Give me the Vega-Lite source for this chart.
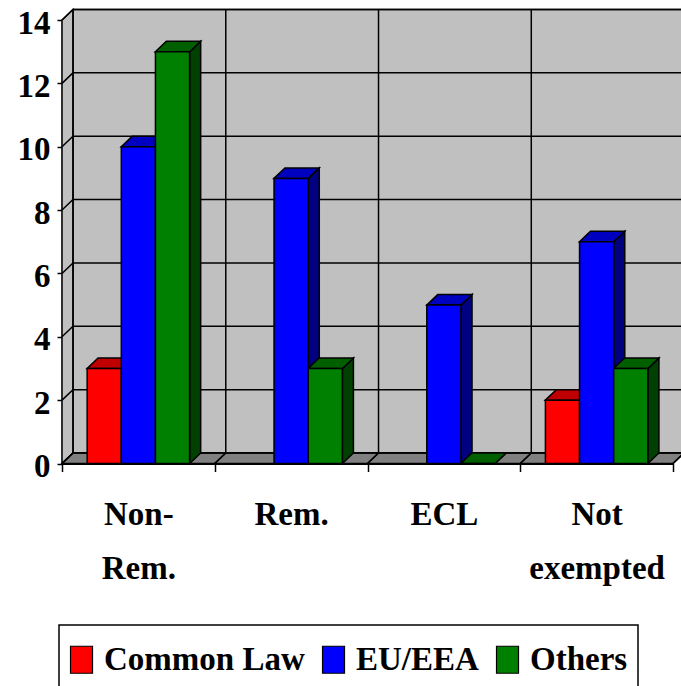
{
 "$schema":"https://vega.github.io/schema/vega-lite/v6.json",
 "width":611,"height":443.5,
 "autosize":{"type":"none"},
 "padding":{"left":62,"top":20,"right":8,"bottom":222.5},
 "background":"white",
 "config":{"view":{"stroke":null},"legend":{"strokeWidth":1.5}},
 "data":{"values":[
  {"category":"Non-Rem.","series":"Common Law","value":3},
  {"category":"Non-Rem.","series":"EU/EEA","value":10},
  {"category":"Non-Rem.","series":"Others","value":13},
  {"category":"Rem.","series":"EU/EEA","value":9},
  {"category":"Rem.","series":"Others","value":3},
  {"category":"ECL","series":"EU/EEA","value":5},
  {"category":"ECL","series":"Others","value":0},
  {"category":"Not exempted","series":"Common Law","value":2},
  {"category":"Not exempted","series":"EU/EEA","value":7},
  {"category":"Not exempted","series":"Others","value":3}
 ]},
 "encoding":{
  "x":{"field":"category","type":"nominal","sort":["Non-Rem.","Rem.","ECL","Not exempted"],
   "scale":{"domain":["Non-Rem.","Rem.","ECL","Not exempted"],"paddingInner":0,"paddingOuter":0},
   "axis":{"title":null,"labelAngle":0,"tickBand":"extent","tickSize":8,"tickColor":"black","tickWidth":1.5,"domainColor":"black","domainWidth":2,"zindex":1,
    "labelFont":"Liberation Serif","labelFontWeight":"bold","labelFontSize":33,"labelColor":"black","labelPadding":43,"labelLineHeight":54,"labelLimit":400,"labelOverlap":false,"labelFlush":false,"labelBaseline":"middle",
    "labelExpr":"datum.label=='Non-Rem.'?['Non-','Rem.']:datum.label=='Not exempted'?['Not','exempted']:datum.label"}},
  "y":{"field":"value","type":"quantitative",
   "scale":{"domain":[0,14],"nice":false,"zero":true},
   "axis":{"title":null,"values":[0,2,4,6,8,10,12,14],"grid":false,"tickSize":5,"tickColor":"black","tickWidth":1.5,"domainColor":"black","domainWidth":1.5,
    "labelFont":"Liberation Serif","labelFontWeight":"bold","labelFontSize":33,"labelColor":"black","labelPadding":7,"labelOffset":3,"labelOverlap":false,"labelFlush":false}}
 },
 "layer":[
  {"data":{"values":[{"base":0}]},
   "mark":{"type":"point","filled":true,"size":4,"opacity":1,"fill":"#c0c0c0","stroke":"black","strokeWidth":1.5,"shape":"M11,-10.5v-443.5h611v443.5zM0,0l11,-10.5v-443.5l-11,10.5z"},
   "encoding":{"x":{"value":0},"y":{"field":"base","type":"quantitative"}}},
  {"data":{"values":[{"base":0}]},
   "mark":{"type":"point","filled":true,"size":4,"opacity":1,"fill":"#808080","stroke":"black","strokeWidth":1.5,"shape":"M0,0l11,-10.5h611l-11,10.5z"},
   "encoding":{"x":{"value":0},"y":{"field":"base","type":"quantitative"}}},
  {"data":{"values":[{"tick":0},{"tick":2},{"tick":4},{"tick":6},{"tick":8},{"tick":10},{"tick":12},{"tick":14}]},
   "mark":{"type":"point","filled":false,"size":4,"opacity":1,"stroke":"black","strokeWidth":1.5,"shape":"M0,0l11,-10.5h611"},
   "encoding":{"x":{"value":0},"y":{"field":"tick","type":"quantitative"}}},
  {"data":{"values":[{"category":"Non-Rem.","base":0},{"category":"Rem.","base":0},{"category":"ECL","base":0},{"category":"Not exempted","base":0}]},
   "mark":{"type":"point","filled":false,"size":4,"opacity":1,"stroke":"black","strokeWidth":1.5,"shape":"M-76.35,0l11,-10.5v-443.5M76.35,0l11,-10.5"},
   "encoding":{"y":{"field":"base","type":"quantitative"}}},
  {"mark":{"type":"point","filled":true,"size":4,"opacity":1,"stroke":"black","strokeWidth":1.5,"shape":{"expr":"'M17.15,0l11,-10.5v'+(datum.value*31.68)+'l-11,10.5z'"}},
   "encoding":{"xOffset":{"field":"series","type":"nominal","scale":{"domain":["Common Law","EU/EEA","Others"],"paddingInner":0,"paddingOuter":0.737}},
    "fill":{"field":"series","type":"nominal","legend":null,"scale":{"domain":["Common Law","EU/EEA","Others"],"range":["#800000","#000080","#004000"]}}}},
  {"mark":{"type":"point","filled":true,"size":4,"opacity":1,"stroke":"black","strokeWidth":1.5,"shape":"M-17.15,0l11,-10.5h34.3l-11,10.5z"},
   "encoding":{"xOffset":{"field":"series","type":"nominal","scale":{"domain":["Common Law","EU/EEA","Others"],"paddingInner":0,"paddingOuter":0.737}},
    "fill":{"field":"series","type":"nominal","legend":null,"scale":{"domain":["Common Law","EU/EEA","Others"],"range":["#c00000","#0000c0","#006000"]}}}},
  {"mark":{"type":"bar","stroke":"black","strokeWidth":1.5},
   "encoding":{"xOffset":{"field":"series","type":"nominal","scale":{"domain":["Common Law","EU/EEA","Others"],"paddingInner":0,"paddingOuter":0.737}},
    "fill":{"field":"series","type":"nominal","scale":{"domain":["Common Law","EU/EEA","Others"],"range":["#ff0000","#0000ff","#008000"]},
     "legend":{"title":null,"orient":"none","legendX":-3,"legendY":605,"direction":"horizontal","columns":3,"padding":10,"columnPadding":15,"strokeColor":"black","fillColor":"white",
      "symbolType":"M-0.978,-0.574H-0.042V0.574H-0.978Z","symbolSize":2209,"symbolStrokeColor":"black","symbolStrokeWidth":1.2,"symbolOpacity":1,
      "labelFont":"Liberation Serif","labelFontWeight":"bold","labelFontSize":33,"labelColor":"black","labelOffset":-14,"labelLimit":400}}}}
 ],
 "resolve":{"scale":{"fill":"independent"}}
}
